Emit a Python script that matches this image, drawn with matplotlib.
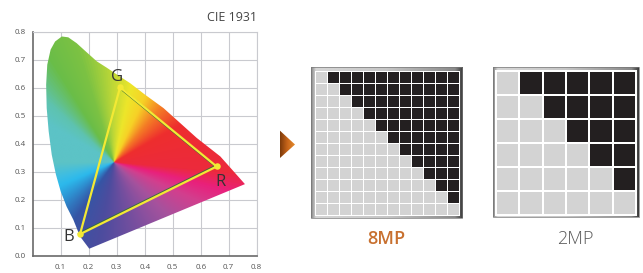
import numpy as np
import matplotlib
matplotlib.use("Agg")
import matplotlib.pyplot as plt
from matplotlib.colors import LinearSegmentedColormap
from matplotlib.patches import Polygon, Rectangle
import matplotlib.patheffects as pe

plt.rcParams['font.family'] = ['Open Sans', 'DejaVu Sans']

# outline of the colour gamut
locus_x = [0.202, 0.169, 0.145, 0.121, 0.100, 0.083, 0.068, 0.057, 0.050, 0.048,
           0.052, 0.064, 0.080, 0.104, 0.127, 0.157, 0.190, 0.229, 0.265, 0.302,
           0.348, 0.401, 0.467, 0.526, 0.586, 0.670, 0.758]
locus_y = [0.025, 0.069, 0.129, 0.176, 0.230, 0.290, 0.361, 0.445, 0.528, 0.611,
           0.683, 0.737, 0.766, 0.784, 0.781, 0.760, 0.730, 0.695, 0.672, 0.647,
           0.617, 0.576, 0.528, 0.475, 0.421, 0.355, 0.256]

# display primaries
tri_names = ['G', 'R', 'B']
tri_x = [0.312, 0.657, 0.169]
tri_y = [0.602, 0.319, 0.077]

x_ticks = [0.1, 0.2, 0.3, 0.4, 0.5, 0.6, 0.7, 0.8]
y_ticks = [0.0, 0.1, 0.2, 0.3, 0.4, 0.5, 0.6, 0.7, 0.8]

# pixel patterns (1 = black cell)
pattern_8mp = [
    "011111111111",
    "001111111111",
    "000111111111",
    "000011111111",
    "000001111111",
    "000000111111",
    "000000011111",
    "000000001111",
    "000000000111",
    "000000000011",
    "000000000001",
    "000000000000",
]
pattern_2mp = [
    "011111",
    "001111",
    "000111",
    "000011",
    "000001",
    "000000",
]
panel_labels = ['8MP', '2MP']

W, H = 643, 273
fig = plt.figure(figsize=(W / 100, H / 100), dpi=100)

# ---- CIE chart ----
ax = fig.add_axes([32.7 / W, (H - 255.7) / H, 224 / W, 223.7 / H])
ax.set_xlim(0, 0.8)
ax.set_ylim(0, 0.8)
ax.set_xticks(x_ticks)
ax.set_xticklabels(['%.1f' % t for t in x_ticks])
ax.set_yticks(y_ticks)
ax.set_yticklabels(['%.1f' % t for t in y_ticks])
ax.tick_params(length=0, labelsize=5.8, labelcolor='#555555')
ax.tick_params(axis='x', pad=6.0)
ax.tick_params(axis='y', pad=5.0)
ax.set_axisbelow(True)
ax.grid(True, color='#c9cacf', lw=0.8)
for s in ['top', 'right']:
    ax.spines[s].set_color('#c9cacf')
    ax.spines[s].set_linewidth(0.8)
for s in ['left', 'bottom']:
    ax.spines[s].set_color('#6a6a6a')
    ax.spines[s].set_linewidth(1.2)

# hue fan around the white point
cx, cy = 0.288, 0.335
hue_stops = [
    (-180, '#5cc3c6'), (-165, '#3cbde4'), (-157, '#2cb9ec'), (-143, '#2e8fd0'),
    (-125, '#3555a5'), (-100, '#4d4c9e'), (-70, '#7a4f9f'), (-45, '#a5529d'),
    (-25, '#d23f8e'), (-14, '#e9207c'), (-5, '#ec2a3c'), (30, '#ee2e2e'),
    (50, '#f47d25'), (65, '#f7d126'), (78, '#ede62a'), (92, '#bcd737'),
    (108, '#7cc243'), (122, '#6abd48'), (138, '#5ec3b0'), (150, '#5cc3c6'),
    (180, '#5cc3c6'),
]
hue_cmap = LinearSegmentedColormap.from_list(
    'fan', [((a + 180) / 360, c) for a, c in hue_stops])
gx, gy = np.meshgrid(np.linspace(0, 0.8, 500), np.linspace(0, 0.8, 500))
ang = np.degrees(np.arctan2(gy - cy, gx - cx))
rgb = hue_cmap((ang + 180) / 360)
im = ax.imshow(rgb, extent=(0, 0.8, 0, 0.8), origin='lower', zorder=2,
               interpolation='bilinear', aspect='auto')
gamut = Polygon(np.column_stack([locus_x, locus_y]), closed=True,
                transform=ax.transData)
im.set_clip_path(gamut)

# triangle
shadow = [pe.SimpleLineShadow(offset=(-0.9, 0.3), shadow_color='#2f6e3a', alpha=0.9),
          pe.Normal()]
ax.plot(tri_x, tri_y, color='#f3e934', lw=1.6, zorder=3, path_effects=shadow,
        solid_capstyle='round')
ax.plot([tri_x[2], tri_x[0]], [tri_y[2], tri_y[0]], color='#f3e934', lw=1.6,
        zorder=3, solid_capstyle='round')
ax.scatter(tri_x, tri_y, s=22, color='#f3e934', zorder=4, linewidths=0)
label_offsets = {'G': (-2, 7.5), 'R': (3, -11.5), 'B': (-8.5, -2)}
for name, x, y in zip(tri_names, tri_x, tri_y):
    ax.annotate(name, (x, y), xytext=label_offsets[name], textcoords='offset points',
                ha='center', va='center', fontsize=12, color='#333333', zorder=5)

ax.text(1.0, 1.035, 'CIE 1931', transform=ax.transAxes, ha='right', va='bottom',
        fontsize=9, color='#444444')

# ---- right side, in pixel coordinates ----
ov = fig.add_axes([0, 0, 1, 1])
ov.set_xlim(0, W)
ov.set_ylim(H, 0)
ov.axis('off')
ov.patch.set_alpha(0)

# arrow
arrow = Polygon([(280, 130.7), (295, 144.5), (280, 158)], closed=True,
                transform=ov.transData)
arrow_cmap = LinearSegmentedColormap.from_list('arr', ['#7c3a0a', '#c8651a', '#e38a2c'])
aim = ov.imshow(np.linspace(0, 1, 64)[None, :], cmap=arrow_cmap,
                extent=(280, 295, 158, 130.7), aspect='auto', interpolation='bilinear')
aim.set_clip_path(arrow)

frame_cmap = LinearSegmentedColormap.from_list(
    'frame', [(0, '#858585'), (0.03, '#d6d6d6'), (0.5, '#c6c6c6'),
              (0.95, '#8a8a8a'), (1, '#3a3a3a')])


def draw_panel(box, cells, pattern, gap):
    fx0, fy0, fx1, fy1 = box
    ov.imshow(np.linspace(0, 1, 256)[None, :], cmap=frame_cmap,
              extent=(fx0, fx1, fy1, fy0), aspect='auto', interpolation='bilinear')
    ov.add_patch(Rectangle((fx0, fy0), fx1 - fx0, fy1 - fy0, fill=False,
                           ec='#777777', lw=0.5))
    cx0, cy0, cx1, cy1 = cells
    ov.add_patch(Rectangle((cx0 - gap, cy0 - gap), cx1 - cx0 + 2 * gap,
                           cy1 - cy0 + 2 * gap, fc='white', ec='none'))
    n = len(pattern)
    px = (cx1 - cx0 + gap) / n
    py = (cy1 - cy0 + gap) / n
    for i, row in enumerate(pattern):
        y0 = round(cy0 + i * py)
        y1 = round(cy0 + (i + 1) * py - gap)
        for j, v in enumerate(row):
            x0 = round(cx0 + j * px)
            x1 = round(cx0 + (j + 1) * px - gap)
            ov.add_patch(Rectangle((x0, y0), x1 - x0, y1 - y0,
                                   fc='#231f20' if v == '1' else '#d3d3d3', ec='none'))


draw_panel((311, 67.3, 462.3, 218.3), (316, 72, 459, 215), pattern_8mp, 1)
draw_panel((493.3, 67.3, 639.3, 216.7), (497, 72, 635, 214), pattern_2mp, 2)

ov.text(386.5, 239, panel_labels[0], ha='center', va='center', fontsize=13,
        color='#c8702f', fontweight='semibold')
ov.text(575.5, 239, panel_labels[1], ha='center', va='center', fontsize=13,
        color='#5a5a5a', fontweight='light')

fig.savefig('out.png', dpi=100)
